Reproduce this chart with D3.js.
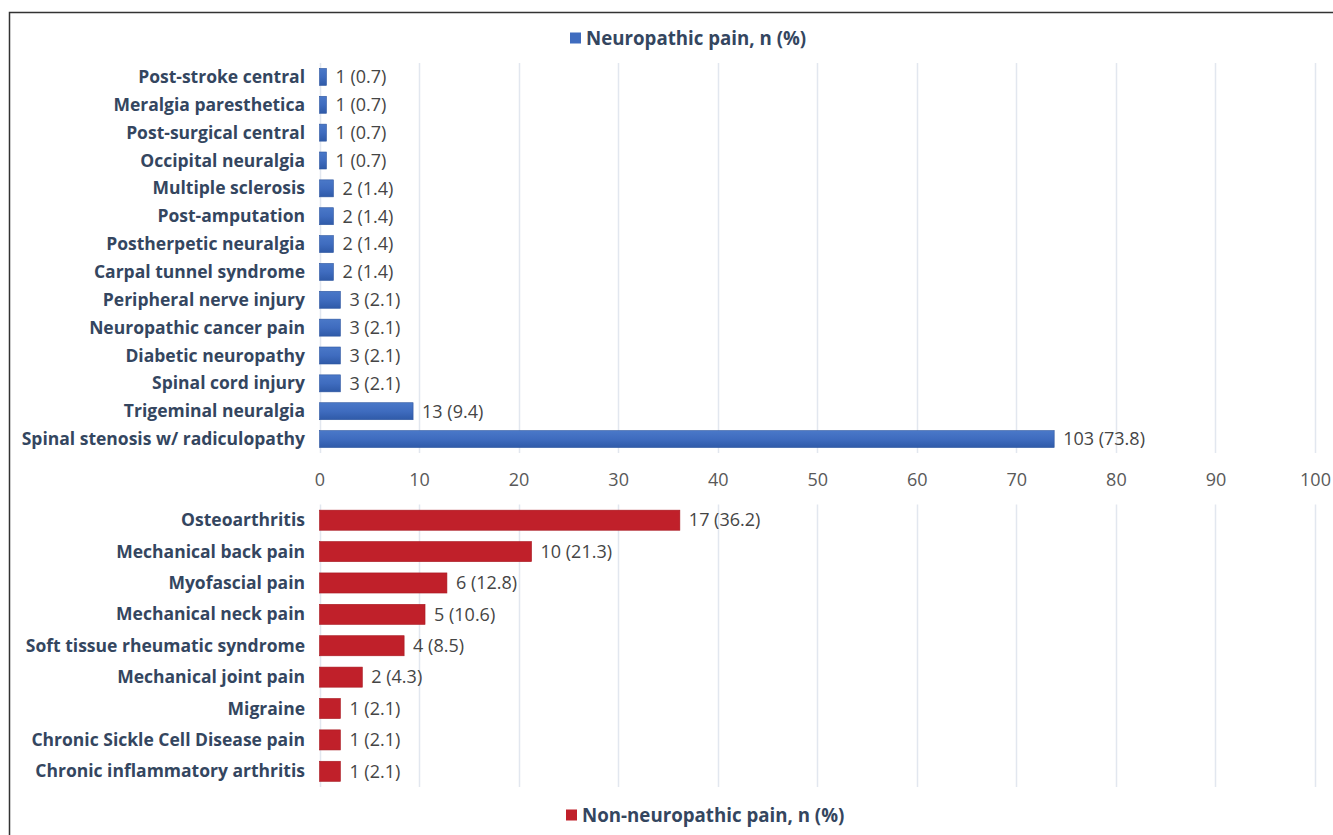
<!DOCTYPE html>
<html><head><meta charset="utf-8">
<script src="https://cdn.jsdelivr.net/npm/d3@7"></script>
<style>body{margin:0;background:#fff}svg{display:block}</style>
</head><body>
<svg id="c" width="1333" height="835"></svg>
<script>
const neuroCats = ["Post-stroke central","Meralgia paresthetica","Post-surgical central","Occipital neuralgia","Multiple sclerosis","Post-amputation","Postherpetic neuralgia","Carpal tunnel syndrome","Peripheral nerve injury","Neuropathic cancer pain","Diabetic neuropathy","Spinal cord injury","Trigeminal neuralgia","Spinal stenosis w/ radiculopathy"];
const neuroN = [1,1,1,1,2,2,2,2,3,3,3,3,13,103];
const neuroPct = [0.7,0.7,0.7,0.7,1.4,1.4,1.4,1.4,2.1,2.1,2.1,2.1,9.4,73.8];
const nonCats = ["Osteoarthritis","Mechanical back pain","Myofascial pain","Mechanical neck pain","Soft tissue rheumatic syndrome","Mechanical joint pain","Migraine","Chronic Sickle Cell Disease pain","Chronic inflammatory arthritis"];
const nonN = [17,10,6,5,4,2,1,1,1];
const nonPct = [36.2,21.3,12.8,10.6,8.5,4.3,2.1,2.1,2.1];
const xTicks = [0,10,20,30,40,50,60,70,80,90,100];
const legendTop = "Neuropathic pain, n (%)";
const legendBottom = "Non-neuropathic pain, n (%)";

const svg = d3.select("#c");
const FONT = "'Open Sans', Lato, sans-serif";
const labelColor = "#34465f";
const valColor = "#454545";

const defs = svg.append("defs");
function grad(id, c1, c2, c3){
  const g = defs.append("linearGradient").attr("id", id).attr("x1",0).attr("y1",0).attr("x2",0).attr("y2",1);
  g.append("stop").attr("offset","0%").attr("stop-color",c1);
  g.append("stop").attr("offset","50%").attr("stop-color",c2);
  g.append("stop").attr("offset","100%").attr("stop-color",c3);
}
grad("gb","#4a78c8","#3f6cbf","#2f5aa8");

// frame
svg.append("rect").attr("x",9.5).attr("y",12.5).attr("width",1340).attr("height",840)
  .attr("fill","none").attr("stroke","#333").attr("stroke-width",1.5);

const x = d3.scaleLinear().domain([0,100]).range([319.5,1315]);

function panel(cats, ns, pcts, y0, y1, pad, fill, stroke){
  const y = d3.scaleBand().domain(cats).range([y0,y1]).paddingInner(pad).paddingOuter(pad/2);
  const g = svg.append("g");
  g.selectAll("line.grid").data(xTicks).join("line")
    .attr("x1",d=>Math.round(x(d))+0.5).attr("x2",d=>Math.round(x(d))+0.5)
    .attr("y1",y0).attr("y2",y1).attr("stroke","#e2e7ef").attr("stroke-width",1.5);
  g.selectAll("rect.bar").data(cats).join("rect")
    .attr("x",x(0)).attr("y",d=>y(d)).attr("height",y.bandwidth())
    .attr("width",(d,i)=>x(pcts[i])-x(0)).attr("fill",fill).attr("stroke",stroke).attr("stroke-width",0.6);
  g.selectAll("text.cat").data(cats).join("text")
    .attr("x",305).attr("y",d=>y(d)+y.bandwidth()/2).attr("dy","0.35em")
    .attr("text-anchor","end").attr("font-family",FONT).attr("font-weight","bold")
    .attr("font-size",17.5).attr("fill",labelColor).text(d=>d);
  g.selectAll("text.val").data(cats).join("text")
    .attr("x",(d,i)=>x(pcts[i])+9).attr("y",d=>y(d)+y.bandwidth()/2).attr("dy","0.35em")
    .attr("font-family",FONT).attr("font-size",18).attr("fill",valColor)
    .text((d,i)=>`${ns[i]} (${pcts[i]})`);
  return y;
}

panel(neuroCats, neuroN, neuroPct, 63, 453, 0.39, "url(#gb)", "#2d56a0");
panel(nonCats, nonN, nonPct, 504.5, 787, 0.36, "#c0202a", "#a81820");

// x axis labels (top panel)
const ax = svg.append("g").attr("transform","translate(0,480)")
  .call(d3.axisBottom(x).tickValues(xTicks).tickSize(0).tickPadding(0));
ax.select(".domain").remove();
ax.selectAll("text").attr("font-family",FONT).attr("font-size",18).attr("fill","#595959").attr("dy","0.35em").attr("y",0);

function legend(yc, color, text, sx){
  const g = svg.append("g");
  g.append("rect").attr("x",sx).attr("y",yc-5.5).attr("width",11).attr("height",11).attr("fill",color);
  g.append("text").attr("x",sx+16).attr("y",yc).attr("dy","0.35em")
    .attr("font-family",FONT).attr("font-weight","bold").attr("font-size",18.7).attr("fill",labelColor).text(text);
}
legend(38, "#3f6cbf", legendTop, 570);
legend(815, "#c0202a", legendBottom, 566);
</script>
</body></html>
